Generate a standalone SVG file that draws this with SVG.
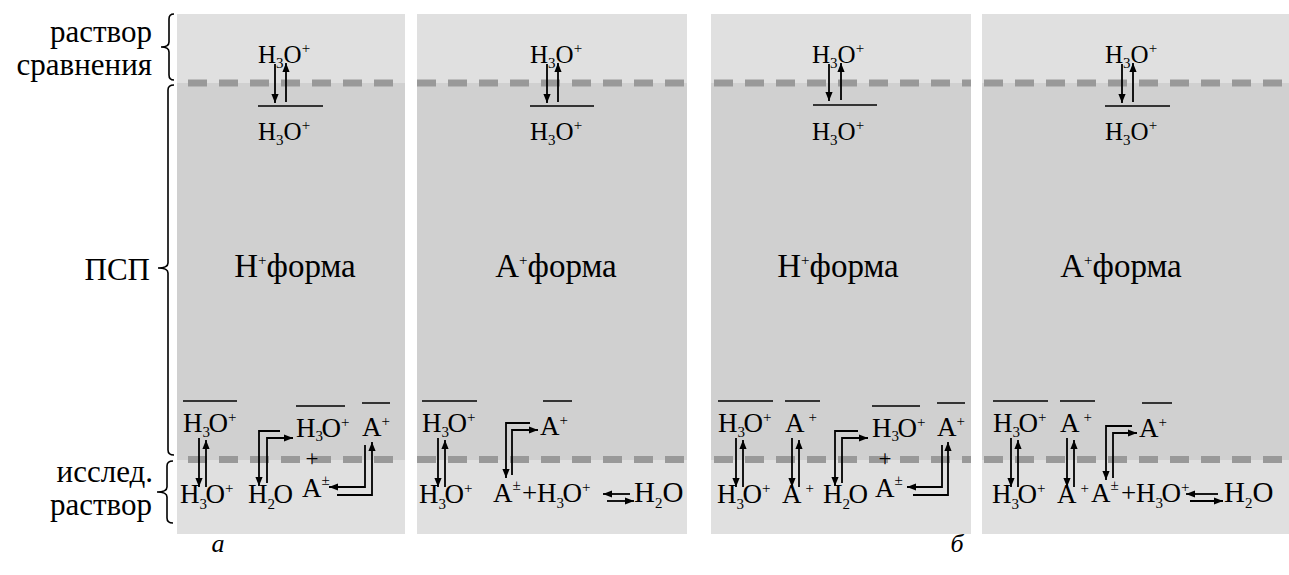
<svg xmlns="http://www.w3.org/2000/svg" width="1289" height="575" viewBox="0 0 1289 575" font-family="'Liberation Serif', 'DejaVu Serif', serif">
<style>
text{font-family:'Liberation Serif','DejaVu Serif',serif;fill:#000}
.lab{font-size:31px}
.frm{font-size:33px}
.top{font-size:25px}
.sp{font-size:27px}
.big{font-size:29px}
.pl{font-size:23px}
.s{font-size:15px}
.ar{fill:none;stroke:#000;stroke-width:1.8}
.bar{stroke:#000;stroke-width:1.5}
.br{fill:none;stroke:#000;stroke-width:1.6}
.lt{fill:#e0e0e0}
.dk{fill:#d0d0d0}
.ds{stroke:#999;stroke-width:7;stroke-dasharray:19 12}
</style>
<defs>
<marker id="ah" viewBox="0 0 10 8" refX="10" refY="4" markerWidth="9" markerHeight="7.5" orient="auto" markerUnits="userSpaceOnUse"><path d="M0,0 L10,4 L0,8 z" fill="#000"/></marker>
</defs>
<rect width="1289" height="575" fill="#fff"/>

<g id="labels">
<text class="lab" x="152" y="42" text-anchor="end">раствор</text>
<text class="lab" x="152" y="75" text-anchor="end">сравнения</text>
<text class="lab" x="150" y="280" text-anchor="end">ПСП</text>
<text class="lab" x="153" y="482" text-anchor="end">исслед.</text>
<text class="lab" x="152" y="515" text-anchor="end">раствор</text>
<path class="br" d="M174,14 Q169,14 169,19 L169,42 Q169,47 161,47 Q169,47 169,52 L169,75 Q169,80 174,80"/>
<path class="br" d="M174,85 Q168,85 168,90 L168,263 Q168,268 158,268 Q168,268 168,273 L168,450 Q168,455 174,455"/>
<path class="br" d="M173,461 Q167,461 167,466 L167,487 Q167,492 157,492 Q167,492 167,497 L167,518 Q167,523 173,523"/>
<text x="218" y="552" font-size="26" font-style="italic" text-anchor="middle">а</text>
<text x="957" y="552" font-size="26" font-style="italic" text-anchor="middle">б</text>
</g>

<g id="panel1">
<rect class="lt" x="177" y="14" width="228" height="69"/>
<rect class="dk" x="177" y="83" width="228" height="377"/>
<rect class="lt" x="177" y="460" width="228" height="74"/>
<line class="ds" x1="188" y1="83" x2="405" y2="83"/>
<line class="ds" x1="188" y1="459.5" x2="405" y2="459.5"/>
<text class="top" x="258" y="63">H<tspan class="s" dy="5">3</tspan><tspan dy="-5">O</tspan><tspan class="s" dy="-10">+</tspan></text>
<line class="bar" x1="258" y1="106" x2="323" y2="106"/>
<text class="top" x="258" y="140">H<tspan class="s" dy="5">3</tspan><tspan dy="-5">O</tspan><tspan class="s" dy="-10">+</tspan></text>
<text class="frm" x="295" y="277" text-anchor="middle">H<tspan class="s" font-size="18" dy="-12">+</tspan><tspan dy="12">форма</tspan></text>
<line class="bar" x1="183" y1="401" x2="237" y2="401"/>
<text class="sp" x="183" y="432">H<tspan class="s" dy="5">3</tspan><tspan dx="-1.5" dy="-5">O</tspan><tspan class="s" dy="-10">+</tspan></text>
<text class="sp" x="180" y="503">H<tspan class="s" dy="6">3</tspan><tspan dx="-1.5" dy="-6">O</tspan><tspan class="s" dy="-10">+</tspan></text>
<text class="sp" x="248" y="503">H<tspan class="s" dy="6">2</tspan><tspan dx="-1.5" dy="-6">O</tspan></text>
<line class="bar" x1="296" y1="406" x2="345" y2="406"/>
<text class="sp" x="296" y="437">H<tspan class="s" dy="4">3</tspan><tspan dx="-1.5" dy="-4">O</tspan><tspan class="s" dy="-10">+</tspan></text>
<text class="pl" x="312" y="466" text-anchor="middle">+</text>
<text class="sp" x="302" y="497">A<tspan class="s" font-size="17" dy="-12">±</tspan></text>
<line class="bar" x1="362" y1="403" x2="390" y2="403"/>
<text class="sp" x="362" y="436">A<tspan class="s" dy="-10">+</tspan></text>
</g>

<g id="panel2">
<rect class="lt" x="417" y="14" width="270" height="69"/>
<rect class="dk" x="417" y="83" width="270" height="377"/>
<rect class="lt" x="417" y="460" width="270" height="74"/>
<line class="ds" x1="417" y1="83" x2="687" y2="83"/>
<line class="ds" x1="417" y1="459.5" x2="687" y2="459.5"/>
<text class="top" x="530" y="63">H<tspan class="s" dy="5">3</tspan><tspan dy="-5">O</tspan><tspan class="s" dy="-10">+</tspan></text>
<line class="bar" x1="530" y1="106" x2="594" y2="106"/>
<text class="top" x="530" y="140">H<tspan class="s" dy="5">3</tspan><tspan dy="-5">O</tspan><tspan class="s" dy="-10">+</tspan></text>
<text class="frm" x="556" y="277" text-anchor="middle">A<tspan class="s" font-size="18" dy="-12">+</tspan><tspan dy="12">форма</tspan></text>
<line class="bar" x1="422" y1="401" x2="477" y2="401"/>
<text class="sp" x="422" y="432">H<tspan class="s" dy="5">3</tspan><tspan dx="-1.5" dy="-5">O</tspan><tspan class="s" dy="-10">+</tspan></text>
<text class="sp" x="419" y="503">H<tspan class="s" dy="6">3</tspan><tspan dx="-1.5" dy="-6">O</tspan><tspan class="s" dy="-10">+</tspan></text>
<line class="bar" x1="543" y1="401" x2="572" y2="401"/>
<text class="sp" x="540" y="435">A<tspan class="s" dy="-10">+</tspan></text>
<text class="sp" x="493" y="502">A<tspan class="s" font-size="17" dy="-12">±</tspan></text>
<text class="sp" x="522" y="502">+</text>
<text class="sp" x="537" y="502">H<tspan class="s" dy="6">3</tspan><tspan dx="-1.5" dy="-6">O</tspan><tspan class="s" dy="-10">+</tspan></text>
<text class="big" x="634" y="502">H<tspan class="s" dy="6">2</tspan><tspan dy="-6">O</tspan></text>
</g>

<g id="panel3">
<rect class="lt" x="711" y="14" width="260" height="69"/>
<rect class="dk" x="711" y="83" width="260" height="377"/>
<rect class="lt" x="711" y="460" width="260" height="74"/>
<line class="ds" x1="714" y1="83" x2="971" y2="83"/>
<line class="ds" x1="714" y1="459.5" x2="971" y2="459.5"/>
<text class="top" x="812" y="63">H<tspan class="s" dy="5">3</tspan><tspan dy="-5">O</tspan><tspan class="s" dy="-10">+</tspan></text>
<line class="bar" x1="813" y1="105" x2="877" y2="105"/>
<text class="top" x="812" y="140">H<tspan class="s" dy="5">3</tspan><tspan dy="-5">O</tspan><tspan class="s" dy="-10">+</tspan></text>
<text class="frm" x="838" y="277" text-anchor="middle">H<tspan class="s" font-size="18" dy="-12">+</tspan><tspan dy="12">форма</tspan></text>
<line class="bar" x1="718" y1="401" x2="773" y2="401"/>
<text class="sp" x="718" y="432">H<tspan class="s" dy="5">3</tspan><tspan dx="-1.5" dy="-5">O</tspan><tspan class="s" dy="-10">+</tspan></text>
<text class="sp" x="717" y="503">H<tspan class="s" dy="6">3</tspan><tspan dx="-1.5" dy="-6">O</tspan><tspan class="s" dy="-10">+</tspan></text>
<line class="bar" x1="785" y1="401" x2="820" y2="401"/>
<text class="sp" x="785" y="432">A<tspan class="s" dx="4" dy="-10">+</tspan></text>
<text class="sp" x="782" y="503">A<tspan class="s" dx="4" dy="-10">+</tspan></text>
<text class="sp" x="823" y="503">H<tspan class="s" dy="6">2</tspan><tspan dx="-1.5" dy="-6">O</tspan></text>
<line class="bar" x1="872" y1="406" x2="920" y2="406"/>
<text class="sp" x="872" y="437">H<tspan class="s" dy="4">3</tspan><tspan dx="-1.5" dy="-4">O</tspan><tspan class="s" dy="-10">+</tspan></text>
<text class="pl" x="885" y="466" text-anchor="middle">+</text>
<text class="sp" x="875" y="497">A<tspan class="s" font-size="17" dy="-12">±</tspan></text>
<line class="bar" x1="937" y1="403" x2="965" y2="403"/>
<text class="sp" x="937" y="436">A<tspan class="s" dy="-10">+</tspan></text>
</g>

<g id="panel4">
<rect class="lt" x="982" y="14" width="307" height="69"/>
<rect class="dk" x="982" y="83" width="307" height="377"/>
<rect class="lt" x="982" y="460" width="307" height="74"/>
<line class="ds" x1="984" y1="83" x2="1289" y2="83"/>
<line class="ds" x1="984" y1="459.5" x2="1289" y2="459.5"/>
<text class="top" x="1105" y="63">H<tspan class="s" dy="5">3</tspan><tspan dy="-5">O</tspan><tspan class="s" dy="-10">+</tspan></text>
<line class="bar" x1="1105" y1="106" x2="1170" y2="106"/>
<text class="top" x="1105" y="140">H<tspan class="s" dy="5">3</tspan><tspan dy="-5">O</tspan><tspan class="s" dy="-10">+</tspan></text>
<text class="frm" x="1121" y="277" text-anchor="middle">A<tspan class="s" font-size="18" dy="-12">+</tspan><tspan dy="12">форма</tspan></text>
<line class="bar" x1="993" y1="401" x2="1048" y2="401"/>
<text class="sp" x="993" y="432">H<tspan class="s" dy="5">3</tspan><tspan dx="-1.5" dy="-5">O</tspan><tspan class="s" dy="-10">+</tspan></text>
<text class="sp" x="992" y="503">H<tspan class="s" dy="6">3</tspan><tspan dx="-1.5" dy="-6">O</tspan><tspan class="s" dy="-10">+</tspan></text>
<line class="bar" x1="1060" y1="401" x2="1095" y2="401"/>
<text class="sp" x="1060" y="432">A<tspan class="s" dx="4" dy="-10">+</tspan></text>
<text class="sp" x="1057" y="503">A<tspan class="s" dx="4" dy="-10">+</tspan></text>
<line class="bar" x1="1142" y1="403" x2="1172" y2="403"/>
<text class="sp" x="1139" y="437">A<tspan class="s" dy="-10">+</tspan></text>
<text class="sp" x="1091" y="502">A<tspan class="s" font-size="17" dy="-12">±</tspan></text>
<text class="sp" x="1121" y="502">+</text>
<text class="sp" x="1136" y="502">H<tspan class="s" dy="6">3</tspan><tspan dx="-1.5" dy="-6">O</tspan><tspan class="s" dy="-10">+</tspan></text>
<text class="big" x="1224" y="502">H<tspan class="s" dy="6">2</tspan><tspan dy="-6">O</tspan></text>
</g>

<g id="connectors">
<path class="ar" d="M275,64 L275,103" marker-end="url(#ah)"/>
<path class="ar" d="M286,102 L286,63" marker-end="url(#ah)"/>
<path class="ar" d="M547,64 L547,103" marker-end="url(#ah)"/>
<path class="ar" d="M558,102 L558,63" marker-end="url(#ah)"/>
<path class="ar" d="M829,64 L829,101" marker-end="url(#ah)"/>
<path class="ar" d="M841,100 L841,63" marker-end="url(#ah)"/>
<path class="ar" d="M1122,64 L1122,103" marker-end="url(#ah)"/>
<path class="ar" d="M1133,102 L1133,63" marker-end="url(#ah)"/>

<path class="ar" d="M199,438 L199,487" marker-end="url(#ah)"/>
<path class="ar" d="M206,487 L206,440" marker-end="url(#ah)"/>
<path class="ar" d="M280,431 L259,431 L259,486" marker-end="url(#ah)"/>
<path class="ar" d="M267,483 L267,438 L293,438" marker-end="url(#ah)"/>
<path class="ar" d="M365,445 L365,487 L329,487" marker-end="url(#ah)"/>
<path class="ar" d="M337,495 L372,495 L372,442" marker-end="url(#ah)"/>

<path class="ar" d="M438,438 L438,487" marker-end="url(#ah)"/>
<path class="ar" d="M445,487 L445,440" marker-end="url(#ah)"/>
<path class="ar" d="M530,423 L506,423 L506,478" marker-end="url(#ah)"/>
<path class="ar" d="M512,475 L512,430 L538,430" marker-end="url(#ah)"/>
<path class="ar" d="M630,494 L603,494" marker-end="url(#ah)"/>
<path class="ar" d="M607,501 L634,501" marker-end="url(#ah)"/>

<path class="ar" d="M736,438 L736,487" marker-end="url(#ah)"/>
<path class="ar" d="M743,487 L743,440" marker-end="url(#ah)"/>
<path class="ar" d="M792,438 L792,487" marker-end="url(#ah)"/>
<path class="ar" d="M799,487 L799,440" marker-end="url(#ah)"/>
<path class="ar" d="M858,431 L835,431 L835,486" marker-end="url(#ah)"/>
<path class="ar" d="M842,483 L842,438 L868,438" marker-end="url(#ah)"/>
<path class="ar" d="M942,445 L942,487 L907,487" marker-end="url(#ah)"/>
<path class="ar" d="M913,495 L948,495 L948,442" marker-end="url(#ah)"/>

<path class="ar" d="M1011,438 L1011,487" marker-end="url(#ah)"/>
<path class="ar" d="M1018,487 L1018,440" marker-end="url(#ah)"/>
<path class="ar" d="M1067,438 L1067,487" marker-end="url(#ah)"/>
<path class="ar" d="M1074,487 L1074,440" marker-end="url(#ah)"/>
<path class="ar" d="M1132,426 L1106,426 L1106,480" marker-end="url(#ah)"/>
<path class="ar" d="M1113,478 L1113,433 L1137,433" marker-end="url(#ah)"/>
<path class="ar" d="M1218,494 L1186,494" marker-end="url(#ah)"/>
<path class="ar" d="M1190,501 L1223,501" marker-end="url(#ah)"/>
</g>
</svg>
